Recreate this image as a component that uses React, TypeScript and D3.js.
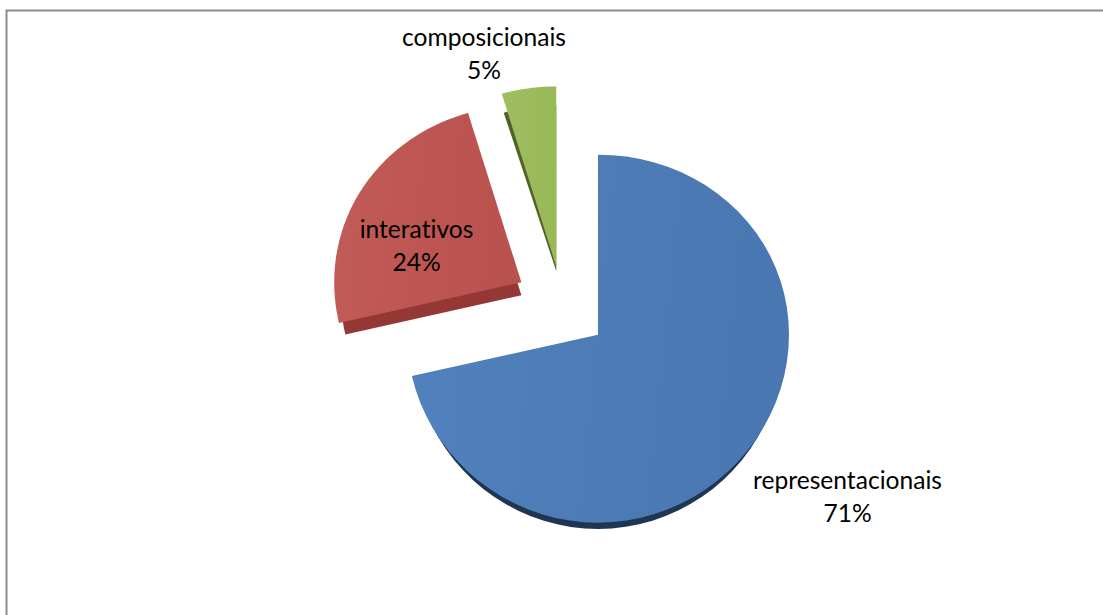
import * as d3 from "d3";

const categories = ["representacionais", "interativos", "composicionais"];
const shares = [71.4, 24, 4.6];
const explode = [46, 47, 40];
const radiusScale = [1, 0.98, 1];
const apexDepth = [1, 1, 0.35]; // the green side wall narrows towards its tip
const faceColors = [
  ["#5282bd", "#4877b1"],
  ["#c25c59", "#b9514e"],
  ["#9fbe60", "#98b958"],
];
const sideColors = ["#1f3552", "#953735", "#4f6228"];

const width = 1103;
const height = 615;
const center = { x: 562, y: 306 };
const rx = 191;
const ryMid = 184;
const perspective = 4; // lower half of the disc looks a bit bigger than the top
const depth = { dx: 0, dy: 13, shrink: 0.965 };

// labels sit where the original has them, relative to the chart area
const labelPos = [
  { x: 847.5, y: 489 },
  { x: 416.5, y: 238 },
  { x: 484, y: 46 },
];
const lineGap = 33;

function project(theta: number, r: number): [number, number] {
  const u = -Math.cos(theta) * r;
  return [rx * Math.sin(theta) * r, ryMid * u + perspective * u * u];
}

function sliceOutline(a0: number, a1: number, r: number, apex: [number, number] = [0, 0]) {
  const steps = d3.range(0, 61).map((i) => a0 + ((a1 - a0) * i) / 60);
  const pts = [apex, ...steps.map((t) => project(t, r))];
  return d3.line().curve(d3.curveLinearClosed)(pts) ?? "";
}

export default function App() {
  const arcs = d3.pie<number>().sort(null)(shares);
  const items = arcs.map((a, i) => {
    const mid = (a.startAngle + a.endAngle) / 2;
    return {
      i,
      a,
      ox: center.x + Math.sin(mid) * explode[i],
      oy: center.y - Math.cos(mid) * explode[i],
    };
  });
  const total = d3.sum(shares);

  return (
    <svg
      width={width}
      height={height}
      viewBox={`0 0 ${width} ${height}`}
      style={{ position: "absolute", left: 0, top: 0, background: "#fff" }}
    >
      <defs>
        {faceColors.map((c, i) => (
          <linearGradient key={i} id={`face-${i}`} x1="0" y1="0" x2="1" y2="0.1">
            <stop offset="0" stopColor={c[0]} />
            <stop offset="1" stopColor={c[1]} />
          </linearGradient>
        ))}
      </defs>

      {/* chart frame, runs off the right and bottom of the picture */}
      <path d={`M6.5 ${height} V10.5 H${width}`} fill="none" stroke="#8c8c8c" strokeWidth={2} />

      {items.map(({ i, a, ox, oy }) => (
        <g key={categories[i]} transform={`translate(${ox},${oy})`}>
          <path
            d={sliceOutline(a.startAngle, a.endAngle, depth.shrink * radiusScale[i], [
              -depth.dx * (1 - apexDepth[i]),
              -depth.dy * (1 - apexDepth[i]),
            ])}
            transform={`translate(${depth.dx},${depth.dy})`}
            fill={sideColors[i]}
          />
          <path
            d={sliceOutline(a.startAngle, a.endAngle, radiusScale[i])}
            fill={`url(#face-${i})`}
          />
        </g>
      ))}

      {items.map(({ i }) => (
        <text
          key={categories[i]}
          textAnchor="middle"
          fontFamily="Lato, 'Open Sans', sans-serif"
          fontSize={24.6}
          fill="#000"
          style={{ fontVariantLigatures: "none" }}
        >
          <tspan x={labelPos[i].x} y={labelPos[i].y}>
            {categories[i]}
          </tspan>
          <tspan x={labelPos[i].x} y={labelPos[i].y + lineGap}>
            {d3.format(".0%")(shares[i] / total)}
          </tspan>
        </text>
      ))}
    </svg>
  );
}
